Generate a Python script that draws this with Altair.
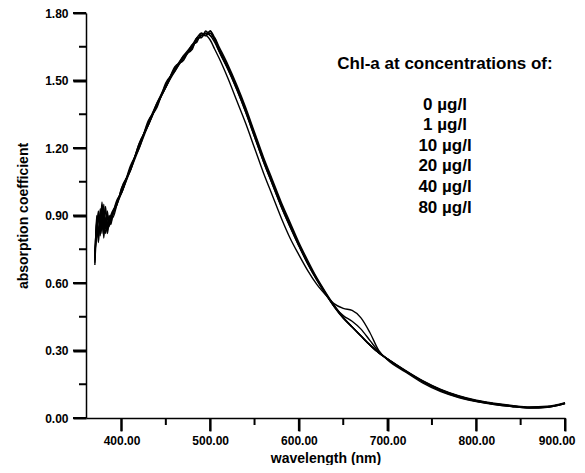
import altair as alt
import pandas as pd

# wavelengths (nm)
wl = [370, 372, 374, 376, 378, 380, 382, 384, 386, 388, 390, 395, 400,
      410, 420, 430, 440, 450, 460, 470, 480, 485, 490, 495, 500, 505, 510,
      520, 530, 540, 550, 560, 570, 580, 590, 600, 610, 620, 630, 640, 650,
      660, 670, 680, 690, 700, 720, 740, 760, 780, 800, 820, 840, 860, 880, 900]

conc_labels = ["0 µg/l", "1 µg/l", "10 µg/l", "20 µg/l", "40 µg/l", "80 µg/l"]
legend_title = "Chl-a at concentrations of:"

s0 = [0.68, 0.90, 0.80, 0.93, 0.82, 0.95, 0.84, 0.90, 0.85, 0.89, 0.91,
      0.97, 1.00, 1.12, 1.20, 1.32, 1.38, 1.49, 1.54, 1.61, 1.64,
      1.69, 1.69, 1.72, 1.70, 1.69, 1.65,
      1.57, 1.48, 1.38, 1.27, 1.16, 1.06, 0.96, 0.87, 0.78, 0.70, 0.625, 0.56, 0.50, 0.448,
      0.405, 0.365, 0.325, 0.29, 0.263,
      0.212, 0.165, 0.127, 0.099, 0.079, 0.066, 0.056, 0.049, 0.052, 0.068]
s1 = [0.72, 0.84, 0.92, 0.81, 0.90, 0.83, 0.94, 0.86, 0.88, 0.87, 0.90,
      0.95, 1.02, 1.10, 1.22, 1.30, 1.40, 1.47, 1.56, 1.59, 1.66,
      1.67, 1.71, 1.70, 1.72, 1.68, 1.64,
      1.56, 1.47, 1.37, 1.26, 1.15, 1.05, 0.95, 0.86, 0.77, 0.69, 0.62, 0.555, 0.495, 0.445,
      0.405, 0.365, 0.325, 0.29, 0.262,
      0.21, 0.163, 0.125, 0.097, 0.077, 0.064, 0.054, 0.047, 0.050, 0.066]
s10 = [0.70, 0.88, 0.83, 0.89, 0.94, 0.80, 0.89, 0.84, 0.90, 0.88, 0.91,
       0.96, 1.01, 1.11, 1.21, 1.31, 1.40, 1.48, 1.55, 1.60, 1.65,
       1.68, 1.70, 1.71, 1.71, 1.68, 1.63,
       1.55, 1.46, 1.36, 1.25, 1.14, 1.04, 0.94, 0.85, 0.765, 0.685, 0.615, 0.552, 0.493, 0.443,
       0.404, 0.364, 0.324, 0.289, 0.261,
       0.209, 0.161, 0.123, 0.095, 0.075, 0.062, 0.052, 0.045, 0.048, 0.064]
s20 = [0.74, 0.81, 0.89, 0.85, 0.93, 0.86, 0.82, 0.92, 0.86, 0.90, 0.92,
       0.95, 1.02, 1.10, 1.22, 1.30, 1.39, 1.47, 1.55, 1.61, 1.66,
       1.69, 1.71, 1.70, 1.72, 1.69, 1.64,
       1.56, 1.47, 1.37, 1.26, 1.15, 1.05, 0.95, 0.86, 0.77, 0.69, 0.62, 0.555, 0.495, 0.445,
       0.405, 0.365, 0.325, 0.29, 0.262,
       0.21, 0.163, 0.125, 0.097, 0.077, 0.064, 0.054, 0.047, 0.050, 0.066]
s40 = [0.71, 0.87, 0.78, 0.88, 0.84, 0.91, 0.87, 0.83, 0.89, 0.86, 0.90,
       0.96, 1.00, 1.11, 1.21, 1.31, 1.39, 1.48, 1.55, 1.60, 1.65,
       1.68, 1.70, 1.71, 1.70, 1.67, 1.63,
       1.55, 1.46, 1.36, 1.25, 1.14, 1.04, 0.94, 0.85, 0.765, 0.685, 0.615, 0.552, 0.495, 0.455,
       0.43, 0.395, 0.345, 0.295, 0.262,
       0.208, 0.16, 0.121, 0.093, 0.074, 0.061, 0.051, 0.045, 0.048, 0.064]
s80 = [0.69, 0.83, 0.90, 0.84, 0.96, 0.85, 0.88, 0.82, 0.87, 0.90, 0.89,
       0.95, 1.00, 1.10, 1.20, 1.30, 1.39, 1.47, 1.54, 1.60, 1.65,
       1.68, 1.70, 1.70, 1.68, 1.64, 1.60,
       1.51, 1.41, 1.31, 1.20, 1.09, 0.99, 0.89, 0.80, 0.725, 0.655, 0.595, 0.548, 0.507, 0.487,
       0.478, 0.445, 0.38, 0.30, 0.258,
       0.205, 0.155, 0.117, 0.091, 0.073, 0.060, 0.051, 0.045, 0.049, 0.065]

series = [s0, s1, s10, s20, s40, s80]

x_major = [400, 500, 600, 700, 800, 900]
x_minor = [450, 550, 650, 750, 850]
y_major = [0.0, 0.30, 0.60, 0.90, 1.20, 1.50, 1.80]
y_minor = [0.15, 0.45, 0.75, 1.05, 1.35, 1.65]

rows = []
for lab, vals in zip(conc_labels, series):
    for w, v in zip(wl, vals):
        rows.append({"wl": w, "a": v, "conc": lab})
df = pd.DataFrame(rows)

FONT = "Liberation Sans"
H = 405
TW = 2
xs = alt.Scale(domain=[360, 900], nice=False, zero=False)
ys = alt.Scale(domain=[0, 1.8], nice=False)

axis_style = dict(
    grid=False, ticks=True, tickColor="#000000", tickWidth=TW, tickSize=13,
    domainColor="black", domainWidth=1.5,
    labelFont=FONT, labelFontSize=12, labelFontWeight="bold", labelColor="black",
    titleFont=FONT, titleFontSize=14, titleFontWeight="bold", titleColor="black",
    labelOverlap=False,
)

lines = alt.Chart(df).mark_line(color="black", strokeWidth=1.4, interpolate="monotone").encode(
    x=alt.X("wl:Q", scale=xs, axis=alt.Axis(
        values=x_major, format=".2f", labelPadding=4,
        labelFlush=1, labelFlushOffset=10,
        title="wavelength (nm)", titlePadding=5, **axis_style)),
    y=alt.Y("a:Q", scale=ys, axis=alt.Axis(
        values=y_major, format=".2f", labelPadding=5, labelFlush=False,
        title="absorption coefficient", titlePadding=14, **axis_style)),
    detail="conc:N",
)

# tick marks drawn as rules at the tick values (major ones duplicate the axis ticks)
xt_major = alt.Chart(pd.DataFrame({"v": x_major})).mark_rule(color="#000000", strokeWidth=TW).encode(
    x=alt.X("v:Q", scale=xs), y=alt.value(H), y2=alt.value(H + 13))
xt_minor = alt.Chart(pd.DataFrame({"v": x_minor})).mark_rule(color="#000000", strokeWidth=TW).encode(
    x=alt.X("v:Q", scale=xs), y=alt.value(H), y2=alt.value(H + 7))
yt_major = alt.Chart(pd.DataFrame({"v": y_major})).mark_rule(color="#000000", strokeWidth=TW).encode(
    y=alt.Y("v:Q", scale=ys), x=alt.value(-13), x2=alt.value(0))
yt_minor = alt.Chart(pd.DataFrame({"v": y_minor})).mark_rule(color="#000000", strokeWidth=TW).encode(
    y=alt.Y("v:Q", scale=ys), x=alt.value(-7), x2=alt.value(0))

legend_head = alt.Chart(pd.DataFrame({"t": [legend_title]})).mark_text(
    font=FONT, fontSize=17, fontWeight="bold", color="black",
    align="center", baseline="top",
).encode(
    x=alt.value(359),
    y=alt.value(43),
    text="t:N",
)

legend_items = alt.Chart(pd.DataFrame({"k": [0]})).mark_text(
    font=FONT, fontSize=17, fontWeight="bold", color="black",
    align="center", baseline="top", lineHeight=20.6,
).encode(
    x=alt.value(359),
    y=alt.value(83.5),
    text=alt.value(conc_labels),
)

chart = alt.layer(lines, xt_major, xt_minor, yt_major, yt_minor, legend_head, legend_items).properties(
    width=479, height=H,
    autosize=alt.AutoSizeParams(type="none"),
    padding={"left": 78, "top": 5, "right": 12, "bottom": 47},
).configure_view(strokeWidth=0)

chart.save("out.html", embed_options={"renderer": "svg", "actions": False})
